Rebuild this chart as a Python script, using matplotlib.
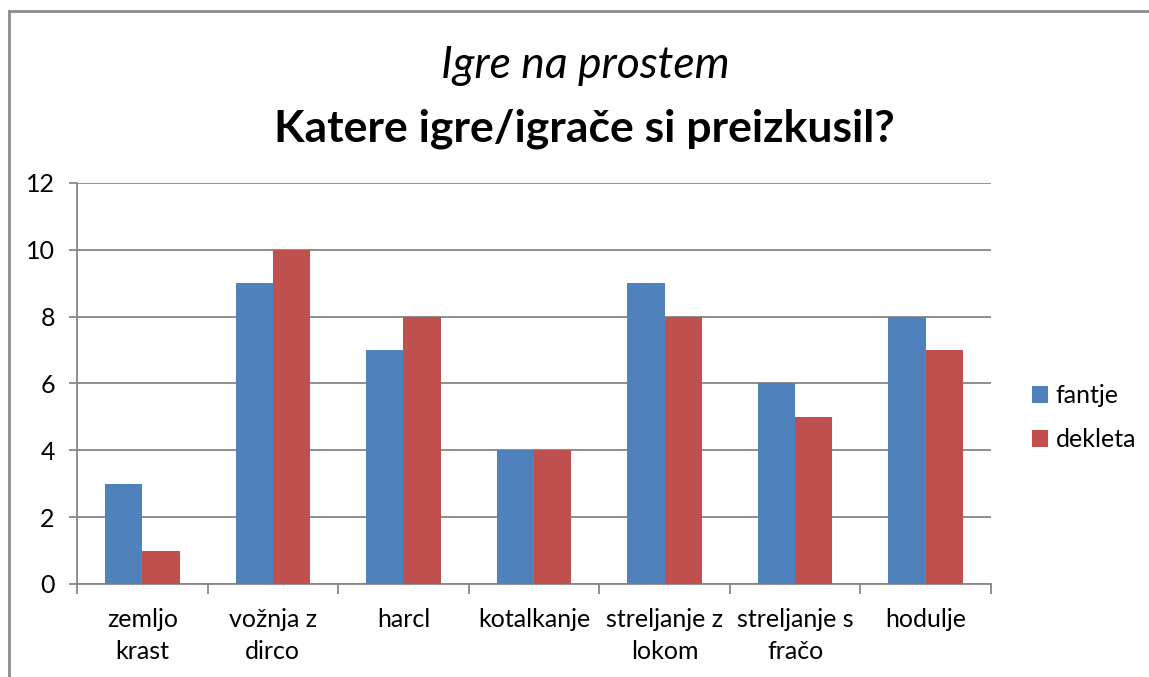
#!/usr/bin/env python3
"""Grouped bar chart: Igre na prostem."""

import matplotlib
matplotlib.use("Agg")
import matplotlib.pyplot as plt
import numpy as np

categories = ["zemljo\nkrast", "vožnja z\ndirco", "harcl", "kotalkanje",
              "streljanje z\nlokom", "streljanje s\nfračo", "hodulje"]
fantje = [3, 9, 7, 4, 9, 6, 8]
dekleta = [1, 10, 8, 4, 8, 5, 7]
series_names = ["fantje", "dekleta"]
yticks = [0, 2, 4, 6, 8, 10, 12]

BLUE = "#4F81BD"
RED = "#C0504D"
GRID = "#868686"

plt.rcParams["font.family"] = ["Lato", "DejaVu Sans"]

fig = plt.figure(figsize=(11.49, 6.77), dpi=100)
ax = fig.add_axes([0.067, 0.1374, 0.7955, 0.5923])

x = np.arange(len(categories))
w = 1 / 3.5
ax.bar(x - w / 2, fantje, width=w, color=BLUE, label=series_names[0], zorder=3)
ax.bar(x + w / 2, dekleta, width=w, color=RED, label=series_names[1], zorder=3)

ax.set_xlim(-0.5, len(categories) - 0.5)
ax.set_ylim(0, 12)
ax.set_yticks(yticks)
ax.yaxis.grid(True, color=GRID, linewidth=1.3, zorder=0)
ax.tick_params(axis="y", length=6, width=1.3, color=GRID, labelsize=18, pad=10)

# category separators as x ticks
ax.set_xticks(np.arange(-0.5, len(categories) + 0.5, 1))
ax.set_xticklabels([])
ax.set_xticks(x, minor=True)
ax.set_xticklabels(categories, minor=True, fontsize=18, linespacing=1.5)
ax.tick_params(axis="x", which="major", length=7, width=1.3, color=GRID)
ax.tick_params(axis="x", which="minor", length=0, pad=17)

for side in ["top", "right"]:
    ax.spines[side].set_visible(False)
for side in ["left", "bottom"]:
    ax.spines[side].set_color(GRID)
    ax.spines[side].set_linewidth(1.3)

fig.text(0.509, 0.903, "Igre na prostem", ha="center", va="center",
         fontsize=32, style="italic")
fig.text(0.509, 0.81, "Katere igre/igrače si preizkusil?", ha="center",
         va="center", fontsize=32, fontweight="bold")

fig.legend(loc="center left", bbox_to_anchor=(0.898, 0.383), frameon=False,
           fontsize=18, handlelength=0.65, handleheight=0.65, borderpad=0,
           borderaxespad=0, handletextpad=0.3, labelspacing=0.85)

# chart border (top and left edges visible)
fig.add_artist(plt.Line2D([0.0078, 1.0], [0.984, 0.984], color="#8C8C8C",
                          linewidth=2, transform=fig.transFigure))
fig.add_artist(plt.Line2D([0.0078, 0.0078], [0.0, 0.984], color="#8C8C8C",
                          linewidth=2, transform=fig.transFigure))

fig.savefig("out.png", dpi=100)
